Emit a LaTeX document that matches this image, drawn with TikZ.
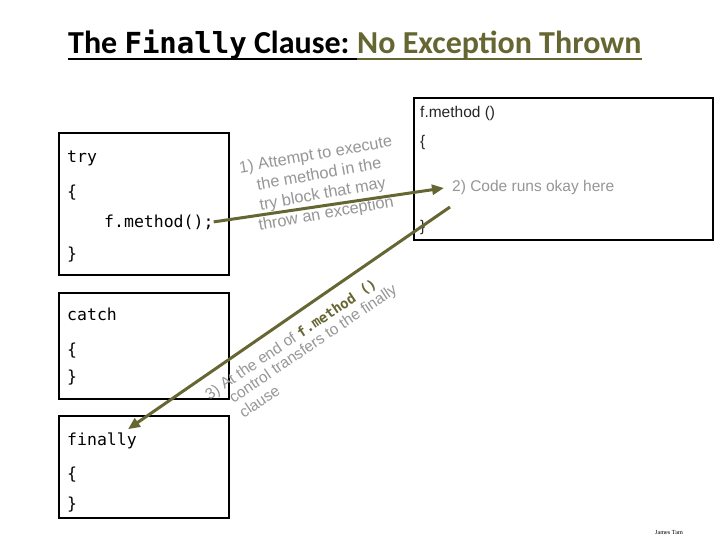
\documentclass[tikz,border=0pt]{standalone}
\usepackage{fontspec}
\setmainfont{Liberation Sans}
\newfontfamily\titlefont{Carlito}
\newfontfamily\codefont{DejaVu Sans Mono}
\newfontfamily\serifnote{Liberation Serif}
\usetikzlibrary{arrows.meta,calc}
\definecolor{olivedk}{RGB}{102,102,51}
\definecolor{txtgray}{RGB}{150,150,150}
\begin{document}
\begin{tikzpicture}[x=1pt,y=-1pt,
  box/.style={draw=black, line width=2.2pt},
  code/.style={font=\codefont\fontsize{16.5}{19}\selectfont, inner sep=0pt, anchor=base west},
  note/.style={font=\fontsize{15.5}{17}\selectfont, text=txtgray, inner sep=0pt},
  plain/.style={font=\fontsize{15.5}{17}\selectfont, text=black!85, inner sep=0pt, anchor=base west},
  ttl/.style={font=\titlefont\bfseries\fontsize{32}{38}\selectfont, inner sep=0pt, anchor=base west},
  arr/.style={draw=olivedk, line width=3pt, -{Triangle[length=12pt,width=10pt]}}
]
\useasboundingbox (0,0) rectangle (720,540);
\fill[white] (0,0) rectangle (720,540);

% title
\node[ttl] (t1) at (68,54) {The {\codefont\bfseries\fontsize{29}{34}\selectfont Finally} Clause:\kern0.23em};
\node[ttl, text=olivedk] (t2) at (t1.base east) {No Exception Thrown};
\draw[line width=2.5pt] ([yshift=-5pt]t1.base west) -- ([yshift=-5pt]t2.base west);
\draw[olivedk, line width=2.5pt] ([yshift=-5pt]t2.base west) -- ([yshift=-5pt]t2.base east);

% boxes
\draw[box] (59,133) rectangle (229,275);
\draw[box] (59,293) rectangle (229,399);
\draw[box] (59,416) rectangle (229,518);
\draw[box] (414,98) rectangle (713,240);

% code
\node[code] (try) at (67,163) {try};
\node[code] (tryo) at (67,198) {\{};
\node[code] (tryfm) at (104,227) {f.method();};
\node[code] (tryc) at (67,259) {\}};
\node[code] (catch) at (67,320) {catch};
\node[code] (catcho) at (67,355) {\{};
\node[code] (catchc) at (67,382) {\}};
\node[code] (fin) at (67,445) {finally};
\node[code] (fino) at (67,479) {\{};
\node[code] (finc) at (67,509) {\}};

% method box
\node[plain] (fm) at (420,118) {f.method ()};
\node[plain] (fmo) at (420,147) {\{};
\node[plain] (fmc) at (420,232) {\}};
\node[note, anchor=base west] (code2) at (452,192) {2) Code runs okay here};

% rotated notes
\node[note, rotate=10, align=center, font=\fontsize{16.3}{20}\selectfont] (n1) at (321,185)
  {1) Attempt to execute\\the method in the\\try block that may\\throw an exception};
\node[note, rotate=34, anchor=base west] (n3a) at (224.5,390)
  {\llap{3) }At the end of {\codefont\bfseries\fontsize{14}{17}\selectfont\color{olivedk}f.method ()}};
\node[note, rotate=34, anchor=base west] (n3b) at (233.5,403.5) {control transfers to the finally};
\node[note, rotate=34, anchor=base west] (n3c) at (243.6,418.4) {clause};

% arrows
\coordinate (a2s) at (450,207);
\draw[arr] (tryfm.east) -- ([xshift=-8pt]code2.west);
\draw[arr] (a2s) -- ([xshift=-9pt,yshift=3pt]fin.north east);

\node[font=\serifnote\fontsize{6.2}{7}\selectfont, inner sep=0pt] (jt) at (669,532) {James Tam};
\end{tikzpicture}
\end{document}
